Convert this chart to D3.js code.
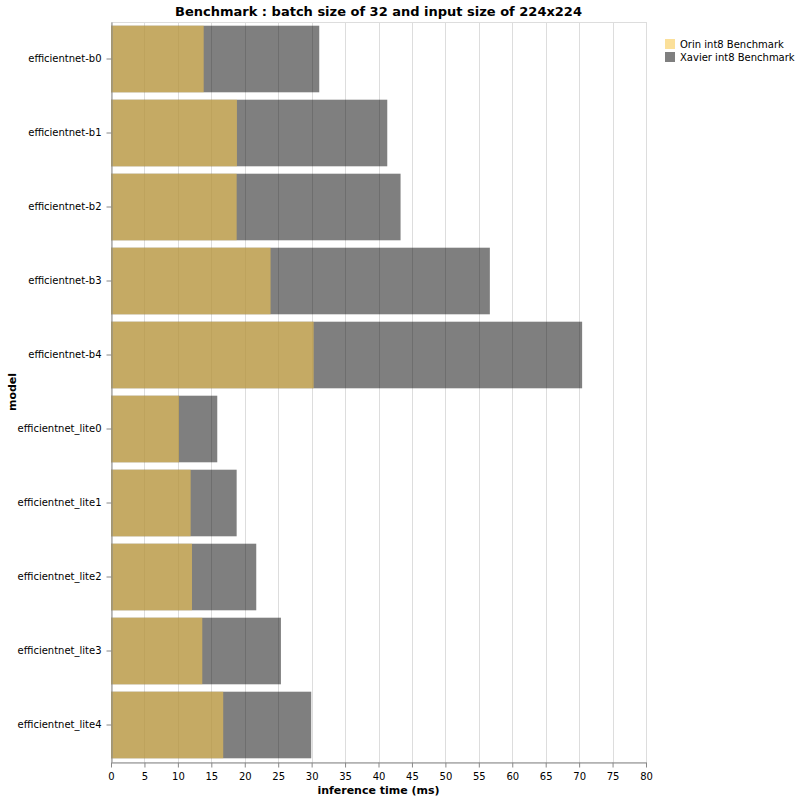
<!DOCTYPE html>
<html><head><meta charset="utf-8">
<script src="https://cdn.jsdelivr.net/npm/d3@7"></script>
<style>body{margin:0;background:#fff}svg{font-family:"DejaVu Sans",sans-serif}</style>
</head><body><svg id="c" width="800" height="800"></svg>
<script>
const models = ["efficientnet-b0","efficientnet-b1","efficientnet-b2","efficientnet-b3","efficientnet-b4","efficientnet_lite0","efficientnet_lite1","efficientnet_lite2","efficientnet_lite3","efficientnet_lite4"];
const orin = [13.86,18.83,18.79,23.86,30.3,10.16,11.91,12.11,13.65,16.78];
const xavier = [31.14,41.31,43.3,56.65,70.45,15.89,18.79,21.72,25.41,29.94];
const seriesNames = ["Orin int8 Benchmark","Xavier int8 Benchmark"];
const xTicks = d3.range(0,81,5);

const svg = d3.select("#c");
const L=111, R=646, T=22, B=762;
const x = d3.scaleLinear().domain([0,80]).range([L,R]);
const y = d3.scaleBand().domain(models).range([T,B]).paddingInner(0.1).paddingOuter(0.05);
const colors = {orin:{fill:"#f8ca51",op:0.58}, xavier:{fill:"#000",op:0.5}};

// view border
svg.append("rect").attr("x",L+0.5).attr("y",T+0.5).attr("width",R-L).attr("height",B-T).attr("fill","none").attr("stroke","#ddd");
// grid
svg.append("g").selectAll("line").data(xTicks).join("line")
  .attr("x1",d=>Math.round(x(d))+0.5).attr("x2",d=>Math.round(x(d))+0.5).attr("y1",T).attr("y2",B)
  .attr("stroke","#ddd");

svg.append("g").selectAll("rect").data(models).join("rect")
  .attr("x",x(0)).attr("y",d=>y(d)).attr("height",y.bandwidth())
  .attr("width",(d,i)=>x(xavier[i])-x(0)).attr("fill",colors.xavier.fill).attr("fill-opacity",colors.xavier.op);
svg.append("g").selectAll("rect").data(models).join("rect")
  .attr("x",x(0)).attr("y",d=>y(d)).attr("height",y.bandwidth())
  .attr("width",(d,i)=>x(orin[i])-x(0)).attr("fill",colors.orin.fill).attr("fill-opacity",colors.orin.op);

// x axis
const xa = svg.append("g").attr("transform",`translate(0,${B+0.5})`)
  .call(d3.axisBottom(x).tickValues(xTicks).tickSize(5).tickSizeOuter(0));
xa.select(".domain").attr("stroke","#888");
xa.selectAll(".tick line").attr("stroke","#888");
xa.selectAll(".tick text").attr("font-size",10).attr("fill","#000").attr("font-family","DejaVu Sans, sans-serif").attr("dy","0.9em");
// y axis
const ya = svg.append("g").attr("transform",`translate(${L+0.5},0)`)
  .call(d3.axisLeft(y).tickSize(5).tickSizeOuter(0));
ya.select(".domain").attr("stroke","#888");
ya.selectAll(".tick line").attr("stroke","#888");
ya.selectAll(".tick text").attr("font-size",10).attr("fill","#000").attr("font-family","DejaVu Sans, sans-serif").attr("dx","-0.2em");

// titles
svg.append("text").attr("x",(L+R)/2).attr("y",16).attr("text-anchor","middle")
  .attr("font-size",13).attr("font-weight","bold").text("Benchmark : batch size of 32 and input size of 224x224");
svg.append("text").attr("x",(L+R)/2).attr("y",794).attr("text-anchor","middle")
  .attr("font-size",11).attr("font-weight","bold").text("inference time (ms)");
svg.append("text").attr("transform",`translate(16,${(T+B)/2}) rotate(-90)`).attr("text-anchor","middle")
  .attr("font-size",11).attr("font-weight","bold").text("model");

// legend
const lg = svg.append("g").attr("transform","translate(665,39)");
const lc = [colors.orin, colors.xavier];
seriesNames.forEach((s,i)=>{
  lg.append("rect").attr("x",0).attr("y",i*13).attr("width",10).attr("height",10)
    .attr("fill",lc[i].fill).attr("fill-opacity",lc[i].op);
  lg.append("text").attr("x",15).attr("y",i*13+9).attr("font-size",10).text(s);
});
</script></body></html>
